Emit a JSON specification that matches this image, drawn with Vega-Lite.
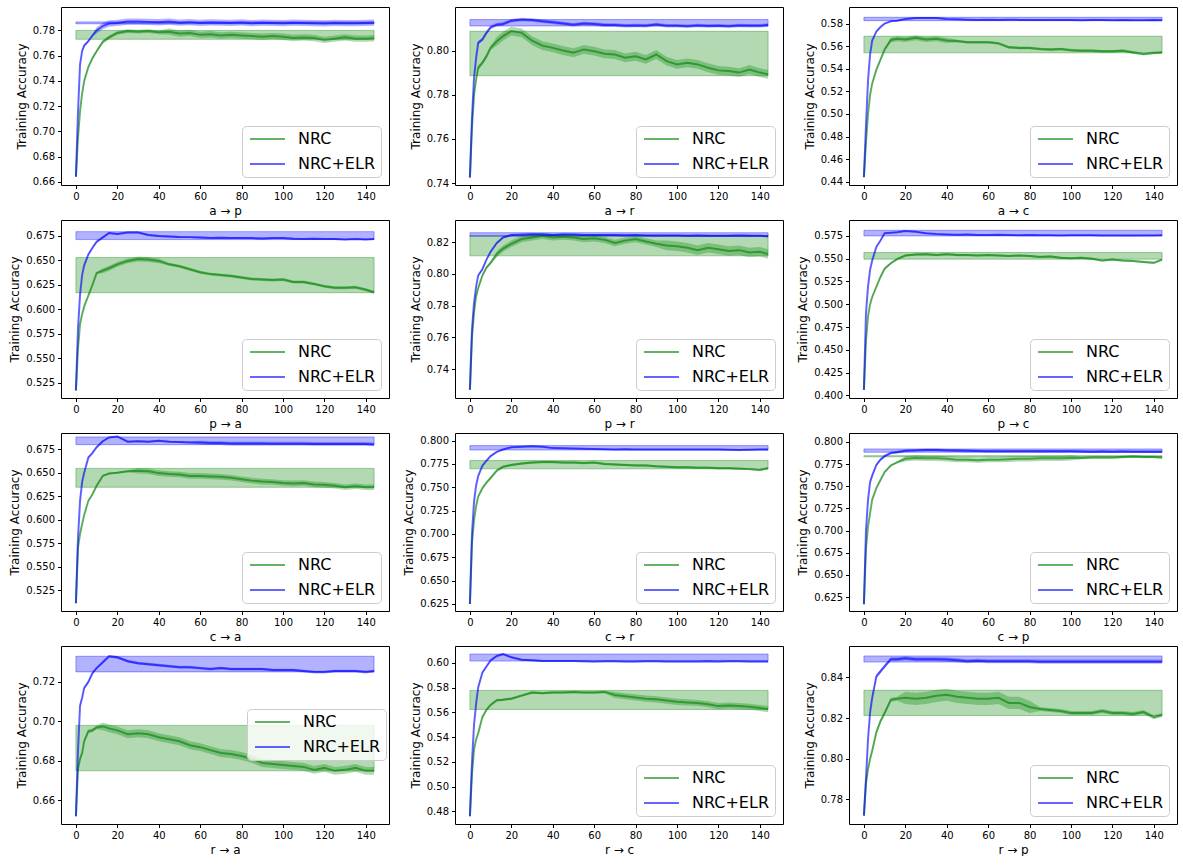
{
"$schema": "https://vega.github.io/schema/vega-lite/v6.json",
"padding": {"left": 8, "top": 6, "right": 0, "bottom": 0},
"datasets": {
"boxes": [
{"t":"ap","s":"NRC","y1":0.773,"y2":0.78},{"t":"ap","s":"NRC+ELR","y1":0.7853,"y2":0.7868},
{"t":"ar","s":"NRC","y1":0.7886,"y2":0.8087},{"t":"ar","s":"NRC+ELR","y1":0.8111,"y2":0.814},
{"t":"ac","s":"NRC","y1":0.5541,"y2":0.5688},{"t":"ac","s":"NRC+ELR","y1":0.5826,"y2":0.5856},
{"t":"pa","s":"NRC","y1":0.617,"y2":0.6529},{"t":"pa","s":"NRC+ELR","y1":0.6713,"y2":0.6794},
{"t":"pr","s":"NRC","y1":0.8114,"y2":0.8242},{"t":"pr","s":"NRC+ELR","y1":0.8237,"y2":0.826},
{"t":"pc","s":"NRC","y1":0.5495,"y2":0.5568},{"t":"pc","s":"NRC+ELR","y1":0.575,"y2":0.5812},
{"t":"ca","s":"NRC","y1":0.6344,"y2":0.6545},{"t":"ca","s":"NRC+ELR","y1":0.6798,"y2":0.688},
{"t":"cr","s":"NRC","y1":0.7698,"y2":0.7787},{"t":"cr","s":"NRC+ELR","y1":0.79,"y2":0.7947},
{"t":"cp","s":"NRC","y1":0.7832,"y2":0.7845},{"t":"cp","s":"NRC+ELR","y1":0.7884,"y2":0.7921},
{"t":"ra","s":"NRC","y1":0.675,"y2":0.698},{"t":"ra","s":"NRC+ELR","y1":0.7251,"y2":0.733},
{"t":"rc","s":"NRC","y1":0.5623,"y2":0.5777},{"t":"rc","s":"NRC+ELR","y1":0.6014,"y2":0.6071},
{"t":"rp","s":"NRC","y1":0.8213,"y2":0.8337},{"t":"rp","s":"NRC+ELR","y1":0.8476,"y2":0.8506}
],
"ap": [
{"s":"NRC","e":0,"m":0.664,"w":0.001},{"s":"NRC","e":1,"m":0.695,"w":0.001},{"s":"NRC","e":2,"m":0.716,"w":0.001},{"s":"NRC","e":3,"m":0.73,"w":0.001},{"s":"NRC","e":4,"m":0.74,"w":0.001},{"s":"NRC","e":6,"m":0.751,"w":0.001},{"s":"NRC","e":8,"m":0.758,"w":0.001},{"s":"NRC","e":10,"m":0.7635,"w":0.001},{"s":"NRC","e":13,"m":0.771,"w":0.0015},{"s":"NRC","e":16,"m":0.7745,"w":0.0015},{"s":"NRC","e":20,"m":0.778,"w":0.0015},{"s":"NRC","e":25,"m":0.7795,"w":0.0015},{"s":"NRC","e":30,"m":0.779,"w":0.0015},{"s":"NRC","e":35,"m":0.7795,"w":0.0015},{"s":"NRC","e":40,"m":0.7785,"w":0.0015},{"s":"NRC","e":45,"m":0.779,"w":0.0025},{"s":"NRC","e":50,"m":0.7775,"w":0.0025},{"s":"NRC","e":55,"m":0.778,"w":0.0025},{"s":"NRC","e":60,"m":0.7765,"w":0.0025},{"s":"NRC","e":65,"m":0.777,"w":0.0025},{"s":"NRC","e":70,"m":0.776,"w":0.0025},{"s":"NRC","e":75,"m":0.7765,"w":0.0025},{"s":"NRC","e":80,"m":0.776,"w":0.0025},{"s":"NRC","e":85,"m":0.7755,"w":0.0025},{"s":"NRC","e":90,"m":0.775,"w":0.0025},{"s":"NRC","e":95,"m":0.7755,"w":0.0025},{"s":"NRC","e":100,"m":0.775,"w":0.0025},{"s":"NRC","e":105,"m":0.774,"w":0.0025},{"s":"NRC","e":110,"m":0.7745,"w":0.0025},{"s":"NRC","e":115,"m":0.774,"w":0.0025},{"s":"NRC","e":120,"m":0.7725,"w":0.0025},{"s":"NRC","e":125,"m":0.7735,"w":0.0025},{"s":"NRC","e":130,"m":0.7745,"w":0.0025},{"s":"NRC","e":135,"m":0.7735,"w":0.0025},{"s":"NRC","e":140,"m":0.7735,"w":0.0025},{"s":"NRC","e":144,"m":0.7738,"w":0.0025},
{"s":"NRC+ELR","e":0,"m":0.664,"w":0.001},{"s":"NRC+ELR","e":1,"m":0.715,"w":0.001},{"s":"NRC+ELR","e":2,"m":0.7532,"w":0.001},{"s":"NRC+ELR","e":3,"m":0.7637,"w":0.001},{"s":"NRC+ELR","e":4,"m":0.768,"w":0.001},{"s":"NRC+ELR","e":6,"m":0.7715,"w":0.001},{"s":"NRC+ELR","e":8,"m":0.776,"w":0.001},{"s":"NRC+ELR","e":10,"m":0.78,"w":0.0025},{"s":"NRC+ELR","e":13,"m":0.7835,"w":0.0025},{"s":"NRC+ELR","e":16,"m":0.7855,"w":0.0025},{"s":"NRC+ELR","e":20,"m":0.786,"w":0.0025},{"s":"NRC+ELR","e":25,"m":0.787,"w":0.0025},{"s":"NRC+ELR","e":30,"m":0.787,"w":0.0025},{"s":"NRC+ELR","e":35,"m":0.7868,"w":0.0025},{"s":"NRC+ELR","e":40,"m":0.7865,"w":0.0025},{"s":"NRC+ELR","e":45,"m":0.787,"w":0.0025},{"s":"NRC+ELR","e":50,"m":0.7862,"w":0.0025},{"s":"NRC+ELR","e":55,"m":0.7866,"w":0.0025},{"s":"NRC+ELR","e":60,"m":0.786,"w":0.0025},{"s":"NRC+ELR","e":65,"m":0.7864,"w":0.0025},{"s":"NRC+ELR","e":70,"m":0.7862,"w":0.0025},{"s":"NRC+ELR","e":75,"m":0.786,"w":0.0025},{"s":"NRC+ELR","e":80,"m":0.7864,"w":0.0025},{"s":"NRC+ELR","e":85,"m":0.7858,"w":0.0025},{"s":"NRC+ELR","e":90,"m":0.7862,"w":0.0025},{"s":"NRC+ELR","e":95,"m":0.786,"w":0.0025},{"s":"NRC+ELR","e":100,"m":0.7858,"w":0.0025},{"s":"NRC+ELR","e":105,"m":0.7862,"w":0.0025},{"s":"NRC+ELR","e":110,"m":0.786,"w":0.0025},{"s":"NRC+ELR","e":115,"m":0.7858,"w":0.0025},{"s":"NRC+ELR","e":120,"m":0.7856,"w":0.0025},{"s":"NRC+ELR","e":125,"m":0.786,"w":0.0025},{"s":"NRC+ELR","e":130,"m":0.7858,"w":0.0025},{"s":"NRC+ELR","e":135,"m":0.7858,"w":0.0025},{"s":"NRC+ELR","e":140,"m":0.786,"w":0.0025},{"s":"NRC+ELR","e":144,"m":0.7862,"w":0.0025}
],
"ar": [
{"s":"NRC","e":0,"m":0.7425,"w":0.001},{"s":"NRC","e":1,"m":0.765,"w":0.001},{"s":"NRC","e":2,"m":0.78,"w":0.001},{"s":"NRC","e":3,"m":0.787,"w":0.001},{"s":"NRC","e":4,"m":0.7922,"w":0.001},{"s":"NRC","e":6,"m":0.7944,"w":0.001},{"s":"NRC","e":8,"m":0.7974,"w":0.001},{"s":"NRC","e":10,"m":0.8012,"w":0.001},{"s":"NRC","e":13,"m":0.8042,"w":0.002},{"s":"NRC","e":16,"m":0.8065,"w":0.002},{"s":"NRC","e":20,"m":0.8088,"w":0.002},{"s":"NRC","e":25,"m":0.808,"w":0.002},{"s":"NRC","e":30,"m":0.8045,"w":0.002},{"s":"NRC","e":35,"m":0.8022,"w":0.002},{"s":"NRC","e":40,"m":0.8012,"w":0.002},{"s":"NRC","e":45,"m":0.8,"w":0.002},{"s":"NRC","e":50,"m":0.799,"w":0.002},{"s":"NRC","e":55,"m":0.8005,"w":0.002},{"s":"NRC","e":60,"m":0.7997,"w":0.002},{"s":"NRC","e":65,"m":0.7985,"w":0.002},{"s":"NRC","e":70,"m":0.7982,"w":0.002},{"s":"NRC","e":75,"m":0.7967,"w":0.002},{"s":"NRC","e":80,"m":0.7974,"w":0.002},{"s":"NRC","e":85,"m":0.796,"w":0.002},{"s":"NRC","e":90,"m":0.7982,"w":0.002},{"s":"NRC","e":95,"m":0.7952,"w":0.002},{"s":"NRC","e":100,"m":0.7937,"w":0.002},{"s":"NRC","e":105,"m":0.7944,"w":0.002},{"s":"NRC","e":110,"m":0.7937,"w":0.002},{"s":"NRC","e":115,"m":0.7922,"w":0.002},{"s":"NRC","e":120,"m":0.791,"w":0.002},{"s":"NRC","e":125,"m":0.7907,"w":0.002},{"s":"NRC","e":130,"m":0.79,"w":0.002},{"s":"NRC","e":135,"m":0.7914,"w":0.002},{"s":"NRC","e":140,"m":0.79,"w":0.002},{"s":"NRC","e":144,"m":0.7892,"w":0.002},
{"s":"NRC+ELR","e":0,"m":0.7425,"w":0.0008},{"s":"NRC+ELR","e":1,"m":0.7696,"w":0.0008},{"s":"NRC+ELR","e":2,"m":0.7877,"w":0.0008},{"s":"NRC+ELR","e":3,"m":0.7967,"w":0.0008},{"s":"NRC+ELR","e":4,"m":0.8035,"w":0.0008},{"s":"NRC+ELR","e":6,"m":0.805,"w":0.0008},{"s":"NRC+ELR","e":8,"m":0.808,"w":0.0008},{"s":"NRC+ELR","e":10,"m":0.8105,"w":0.0008},{"s":"NRC+ELR","e":13,"m":0.8117,"w":0.0008},{"s":"NRC+ELR","e":16,"m":0.812,"w":0.0008},{"s":"NRC+ELR","e":20,"m":0.8135,"w":0.0008},{"s":"NRC+ELR","e":25,"m":0.814,"w":0.0008},{"s":"NRC+ELR","e":30,"m":0.8138,"w":0.0008},{"s":"NRC+ELR","e":35,"m":0.8132,"w":0.0008},{"s":"NRC+ELR","e":40,"m":0.8128,"w":0.0008},{"s":"NRC+ELR","e":45,"m":0.8122,"w":0.0008},{"s":"NRC+ELR","e":50,"m":0.8117,"w":0.0008},{"s":"NRC+ELR","e":55,"m":0.8122,"w":0.0008},{"s":"NRC+ELR","e":60,"m":0.812,"w":0.0008},{"s":"NRC+ELR","e":65,"m":0.8115,"w":0.0008},{"s":"NRC+ELR","e":70,"m":0.8115,"w":0.0008},{"s":"NRC+ELR","e":75,"m":0.8112,"w":0.0008},{"s":"NRC+ELR","e":80,"m":0.8113,"w":0.0008},{"s":"NRC+ELR","e":85,"m":0.8112,"w":0.0008},{"s":"NRC+ELR","e":90,"m":0.8118,"w":0.0008},{"s":"NRC+ELR","e":95,"m":0.8112,"w":0.0008},{"s":"NRC+ELR","e":100,"m":0.8112,"w":0.0008},{"s":"NRC+ELR","e":105,"m":0.811,"w":0.0008},{"s":"NRC+ELR","e":110,"m":0.8113,"w":0.0008},{"s":"NRC+ELR","e":115,"m":0.8111,"w":0.0008},{"s":"NRC+ELR","e":120,"m":0.8112,"w":0.0008},{"s":"NRC+ELR","e":125,"m":0.811,"w":0.0008},{"s":"NRC+ELR","e":130,"m":0.8113,"w":0.0008},{"s":"NRC+ELR","e":135,"m":0.8112,"w":0.0008},{"s":"NRC+ELR","e":140,"m":0.8112,"w":0.0008},{"s":"NRC+ELR","e":144,"m":0.8115,"w":0.0008}
],
"ac": [
{"s":"NRC","e":0,"m":0.444,"w":0.001},{"s":"NRC","e":1,"m":0.475,"w":0.001},{"s":"NRC","e":2,"m":0.5,"w":0.001},{"s":"NRC","e":3,"m":0.517,"w":0.001},{"s":"NRC","e":4,"m":0.527,"w":0.001},{"s":"NRC","e":6,"m":0.539,"w":0.001},{"s":"NRC","e":8,"m":0.548,"w":0.001},{"s":"NRC","e":10,"m":0.557,"w":0.001},{"s":"NRC","e":13,"m":0.5655,"w":0.0022},{"s":"NRC","e":16,"m":0.5665,"w":0.0022},{"s":"NRC","e":20,"m":0.566,"w":0.0022},{"s":"NRC","e":25,"m":0.5675,"w":0.0022},{"s":"NRC","e":30,"m":0.566,"w":0.0022},{"s":"NRC","e":35,"m":0.5665,"w":0.0022},{"s":"NRC","e":40,"m":0.565,"w":0.0022},{"s":"NRC","e":45,"m":0.5645,"w":0.0012},{"s":"NRC","e":50,"m":0.5635,"w":0.0012},{"s":"NRC","e":55,"m":0.5635,"w":0.0012},{"s":"NRC","e":60,"m":0.5635,"w":0.0012},{"s":"NRC","e":65,"m":0.5625,"w":0.0012},{"s":"NRC","e":70,"m":0.559,"w":0.0012},{"s":"NRC","e":75,"m":0.5585,"w":0.0012},{"s":"NRC","e":80,"m":0.5585,"w":0.0012},{"s":"NRC","e":85,"m":0.5575,"w":0.0012},{"s":"NRC","e":90,"m":0.557,"w":0.0012},{"s":"NRC","e":95,"m":0.5575,"w":0.0012},{"s":"NRC","e":100,"m":0.5565,"w":0.0012},{"s":"NRC","e":105,"m":0.556,"w":0.0012},{"s":"NRC","e":110,"m":0.556,"w":0.0012},{"s":"NRC","e":115,"m":0.5555,"w":0.0012},{"s":"NRC","e":120,"m":0.5555,"w":0.0012},{"s":"NRC","e":125,"m":0.556,"w":0.0012},{"s":"NRC","e":130,"m":0.5545,"w":0.0012},{"s":"NRC","e":135,"m":0.553,"w":0.0012},{"s":"NRC","e":140,"m":0.554,"w":0.0012},{"s":"NRC","e":144,"m":0.5545,"w":0.0012},
{"s":"NRC+ELR","e":0,"m":0.444,"w":0.0006},{"s":"NRC+ELR","e":1,"m":0.49,"w":0.0006},{"s":"NRC+ELR","e":2,"m":0.53,"w":0.0006},{"s":"NRC+ELR","e":3,"m":0.553,"w":0.0006},{"s":"NRC+ELR","e":4,"m":0.565,"w":0.0006},{"s":"NRC+ELR","e":6,"m":0.573,"w":0.0006},{"s":"NRC+ELR","e":8,"m":0.577,"w":0.0006},{"s":"NRC+ELR","e":10,"m":0.58,"w":0.0006},{"s":"NRC+ELR","e":13,"m":0.582,"w":0.0006},{"s":"NRC+ELR","e":16,"m":0.5825,"w":0.0006},{"s":"NRC+ELR","e":20,"m":0.584,"w":0.0006},{"s":"NRC+ELR","e":25,"m":0.585,"w":0.0006},{"s":"NRC+ELR","e":30,"m":0.585,"w":0.0006},{"s":"NRC+ELR","e":35,"m":0.585,"w":0.0006},{"s":"NRC+ELR","e":40,"m":0.584,"w":0.0006},{"s":"NRC+ELR","e":45,"m":0.5838,"w":0.0006},{"s":"NRC+ELR","e":50,"m":0.5835,"w":0.0006},{"s":"NRC+ELR","e":55,"m":0.5833,"w":0.0006},{"s":"NRC+ELR","e":60,"m":0.5835,"w":0.0006},{"s":"NRC+ELR","e":65,"m":0.5833,"w":0.0006},{"s":"NRC+ELR","e":70,"m":0.5835,"w":0.0006},{"s":"NRC+ELR","e":75,"m":0.5833,"w":0.0006},{"s":"NRC+ELR","e":80,"m":0.5833,"w":0.0006},{"s":"NRC+ELR","e":85,"m":0.5832,"w":0.0006},{"s":"NRC+ELR","e":90,"m":0.5833,"w":0.0006},{"s":"NRC+ELR","e":95,"m":0.5832,"w":0.0006},{"s":"NRC+ELR","e":100,"m":0.5832,"w":0.0006},{"s":"NRC+ELR","e":105,"m":0.583,"w":0.0006},{"s":"NRC+ELR","e":110,"m":0.5832,"w":0.0006},{"s":"NRC+ELR","e":115,"m":0.5832,"w":0.0006},{"s":"NRC+ELR","e":120,"m":0.583,"w":0.0006},{"s":"NRC+ELR","e":125,"m":0.5832,"w":0.0006},{"s":"NRC+ELR","e":130,"m":0.583,"w":0.0006},{"s":"NRC+ELR","e":135,"m":0.583,"w":0.0006},{"s":"NRC+ELR","e":140,"m":0.5832,"w":0.0006},{"s":"NRC+ELR","e":144,"m":0.583,"w":0.0006}
],
"pa": [
{"s":"NRC","e":0,"m":0.517,"w":0.001},{"s":"NRC","e":1,"m":0.56,"w":0.001},{"s":"NRC","e":2,"m":0.585,"w":0.001},{"s":"NRC","e":3,"m":0.595,"w":0.001},{"s":"NRC","e":4,"m":0.603,"w":0.001},{"s":"NRC","e":6,"m":0.614,"w":0.001},{"s":"NRC","e":8,"m":0.625,"w":0.001},{"s":"NRC","e":10,"m":0.637,"w":0.001},{"s":"NRC","e":13,"m":0.6395,"w":0.0025},{"s":"NRC","e":16,"m":0.642,"w":0.0025},{"s":"NRC","e":20,"m":0.646,"w":0.0025},{"s":"NRC","e":25,"m":0.6495,"w":0.0025},{"s":"NRC","e":30,"m":0.6515,"w":0.0025},{"s":"NRC","e":35,"m":0.651,"w":0.0025},{"s":"NRC","e":40,"m":0.6495,"w":0.0025},{"s":"NRC","e":45,"m":0.646,"w":0.0015},{"s":"NRC","e":50,"m":0.644,"w":0.0015},{"s":"NRC","e":55,"m":0.641,"w":0.0015},{"s":"NRC","e":60,"m":0.638,"w":0.0015},{"s":"NRC","e":65,"m":0.636,"w":0.0015},{"s":"NRC","e":70,"m":0.635,"w":0.0015},{"s":"NRC","e":75,"m":0.634,"w":0.0015},{"s":"NRC","e":80,"m":0.6325,"w":0.0015},{"s":"NRC","e":85,"m":0.631,"w":0.0015},{"s":"NRC","e":90,"m":0.6305,"w":0.0015},{"s":"NRC","e":95,"m":0.63,"w":0.0015},{"s":"NRC","e":100,"m":0.6305,"w":0.0015},{"s":"NRC","e":105,"m":0.628,"w":0.0015},{"s":"NRC","e":110,"m":0.628,"w":0.0015},{"s":"NRC","e":115,"m":0.626,"w":0.0015},{"s":"NRC","e":120,"m":0.6235,"w":0.0015},{"s":"NRC","e":125,"m":0.622,"w":0.0015},{"s":"NRC","e":130,"m":0.622,"w":0.0015},{"s":"NRC","e":135,"m":0.6225,"w":0.0015},{"s":"NRC","e":140,"m":0.62,"w":0.0015},{"s":"NRC","e":144,"m":0.6175,"w":0.0015},
{"s":"NRC+ELR","e":0,"m":0.517,"w":0.001},{"s":"NRC+ELR","e":1,"m":0.58,"w":0.001},{"s":"NRC+ELR","e":2,"m":0.615,"w":0.001},{"s":"NRC+ELR","e":3,"m":0.635,"w":0.001},{"s":"NRC+ELR","e":4,"m":0.645,"w":0.001},{"s":"NRC+ELR","e":6,"m":0.656,"w":0.001},{"s":"NRC+ELR","e":8,"m":0.663,"w":0.001},{"s":"NRC+ELR","e":10,"m":0.669,"w":0.001},{"s":"NRC+ELR","e":13,"m":0.6735,"w":0.001},{"s":"NRC+ELR","e":16,"m":0.678,"w":0.001},{"s":"NRC+ELR","e":20,"m":0.677,"w":0.001},{"s":"NRC+ELR","e":25,"m":0.6785,"w":0.001},{"s":"NRC+ELR","e":30,"m":0.6785,"w":0.001},{"s":"NRC+ELR","e":35,"m":0.676,"w":0.001},{"s":"NRC+ELR","e":40,"m":0.675,"w":0.001},{"s":"NRC+ELR","e":45,"m":0.6745,"w":0.001},{"s":"NRC+ELR","e":50,"m":0.674,"w":0.001},{"s":"NRC+ELR","e":55,"m":0.6738,"w":0.001},{"s":"NRC+ELR","e":60,"m":0.6735,"w":0.001},{"s":"NRC+ELR","e":65,"m":0.673,"w":0.001},{"s":"NRC+ELR","e":70,"m":0.6732,"w":0.001},{"s":"NRC+ELR","e":75,"m":0.673,"w":0.001},{"s":"NRC+ELR","e":80,"m":0.673,"w":0.001},{"s":"NRC+ELR","e":85,"m":0.6728,"w":0.001},{"s":"NRC+ELR","e":90,"m":0.6725,"w":0.001},{"s":"NRC+ELR","e":95,"m":0.6728,"w":0.001},{"s":"NRC+ELR","e":100,"m":0.673,"w":0.001},{"s":"NRC+ELR","e":105,"m":0.6722,"w":0.001},{"s":"NRC+ELR","e":110,"m":0.672,"w":0.001},{"s":"NRC+ELR","e":115,"m":0.6722,"w":0.001},{"s":"NRC+ELR","e":120,"m":0.672,"w":0.001},{"s":"NRC+ELR","e":125,"m":0.6718,"w":0.001},{"s":"NRC+ELR","e":130,"m":0.6715,"w":0.001},{"s":"NRC+ELR","e":135,"m":0.672,"w":0.001},{"s":"NRC+ELR","e":140,"m":0.6715,"w":0.001},{"s":"NRC+ELR","e":144,"m":0.672,"w":0.001}
],
"pr": [
{"s":"NRC","e":0,"m":0.727,"w":0.001},{"s":"NRC","e":1,"m":0.76,"w":0.001},{"s":"NRC","e":2,"m":0.776,"w":0.001},{"s":"NRC","e":3,"m":0.786,"w":0.001},{"s":"NRC","e":4,"m":0.791,"w":0.001},{"s":"NRC","e":6,"m":0.799,"w":0.001},{"s":"NRC","e":8,"m":0.804,"w":0.001},{"s":"NRC","e":10,"m":0.807,"w":0.001},{"s":"NRC","e":13,"m":0.8125,"w":0.002},{"s":"NRC","e":16,"m":0.816,"w":0.002},{"s":"NRC","e":20,"m":0.819,"w":0.002},{"s":"NRC","e":25,"m":0.822,"w":0.002},{"s":"NRC","e":30,"m":0.823,"w":0.002},{"s":"NRC","e":35,"m":0.824,"w":0.002},{"s":"NRC","e":40,"m":0.823,"w":0.002},{"s":"NRC","e":45,"m":0.8235,"w":0.002},{"s":"NRC","e":50,"m":0.823,"w":0.002},{"s":"NRC","e":55,"m":0.822,"w":0.002},{"s":"NRC","e":60,"m":0.8225,"w":0.002},{"s":"NRC","e":65,"m":0.8215,"w":0.002},{"s":"NRC","e":70,"m":0.8195,"w":0.002},{"s":"NRC","e":75,"m":0.821,"w":0.002},{"s":"NRC","e":80,"m":0.822,"w":0.002},{"s":"NRC","e":85,"m":0.8205,"w":0.002},{"s":"NRC","e":90,"m":0.819,"w":0.002},{"s":"NRC","e":95,"m":0.818,"w":0.003},{"s":"NRC","e":100,"m":0.8175,"w":0.003},{"s":"NRC","e":105,"m":0.8165,"w":0.003},{"s":"NRC","e":110,"m":0.815,"w":0.003},{"s":"NRC","e":115,"m":0.8165,"w":0.003},{"s":"NRC","e":120,"m":0.8155,"w":0.003},{"s":"NRC","e":125,"m":0.8145,"w":0.003},{"s":"NRC","e":130,"m":0.815,"w":0.003},{"s":"NRC","e":135,"m":0.8135,"w":0.003},{"s":"NRC","e":140,"m":0.814,"w":0.003},{"s":"NRC","e":144,"m":0.8125,"w":0.003},
{"s":"NRC+ELR","e":0,"m":0.727,"w":0.0006},{"s":"NRC+ELR","e":1,"m":0.765,"w":0.0006},{"s":"NRC+ELR","e":2,"m":0.782,"w":0.0006},{"s":"NRC+ELR","e":3,"m":0.792,"w":0.0006},{"s":"NRC+ELR","e":4,"m":0.799,"w":0.0006},{"s":"NRC+ELR","e":6,"m":0.803,"w":0.0006},{"s":"NRC+ELR","e":8,"m":0.809,"w":0.0006},{"s":"NRC+ELR","e":10,"m":0.814,"w":0.0006},{"s":"NRC+ELR","e":13,"m":0.8195,"w":0.0006},{"s":"NRC+ELR","e":16,"m":0.823,"w":0.0006},{"s":"NRC+ELR","e":20,"m":0.8245,"w":0.0006},{"s":"NRC+ELR","e":25,"m":0.8247,"w":0.0006},{"s":"NRC+ELR","e":30,"m":0.825,"w":0.0006},{"s":"NRC+ELR","e":35,"m":0.8248,"w":0.0006},{"s":"NRC+ELR","e":40,"m":0.8245,"w":0.0006},{"s":"NRC+ELR","e":45,"m":0.8248,"w":0.0006},{"s":"NRC+ELR","e":50,"m":0.8248,"w":0.0006},{"s":"NRC+ELR","e":55,"m":0.8245,"w":0.0006},{"s":"NRC+ELR","e":60,"m":0.8245,"w":0.0006},{"s":"NRC+ELR","e":65,"m":0.8246,"w":0.0006},{"s":"NRC+ELR","e":70,"m":0.8245,"w":0.0006},{"s":"NRC+ELR","e":75,"m":0.8244,"w":0.0006},{"s":"NRC+ELR","e":80,"m":0.8245,"w":0.0006},{"s":"NRC+ELR","e":85,"m":0.8243,"w":0.0006},{"s":"NRC+ELR","e":90,"m":0.8242,"w":0.0006},{"s":"NRC+ELR","e":95,"m":0.8243,"w":0.0006},{"s":"NRC+ELR","e":100,"m":0.8243,"w":0.0006},{"s":"NRC+ELR","e":105,"m":0.8241,"w":0.0006},{"s":"NRC+ELR","e":110,"m":0.8242,"w":0.0006},{"s":"NRC+ELR","e":115,"m":0.8241,"w":0.0006},{"s":"NRC+ELR","e":120,"m":0.824,"w":0.0006},{"s":"NRC+ELR","e":125,"m":0.8241,"w":0.0006},{"s":"NRC+ELR","e":130,"m":0.8242,"w":0.0006},{"s":"NRC+ELR","e":135,"m":0.8241,"w":0.0006},{"s":"NRC+ELR","e":140,"m":0.824,"w":0.0006},{"s":"NRC+ELR","e":144,"m":0.8238,"w":0.0006}
],
"pc": [
{"s":"NRC","e":0,"m":0.406,"w":0.0012},{"s":"NRC","e":1,"m":0.46,"w":0.0012},{"s":"NRC","e":2,"m":0.487,"w":0.0012},{"s":"NRC","e":3,"m":0.5,"w":0.0012},{"s":"NRC","e":4,"m":0.508,"w":0.0012},{"s":"NRC","e":6,"m":0.519,"w":0.0012},{"s":"NRC","e":8,"m":0.53,"w":0.0012},{"s":"NRC","e":10,"m":0.539,"w":0.0012},{"s":"NRC","e":13,"m":0.545,"w":0.0012},{"s":"NRC","e":16,"m":0.5495,"w":0.0012},{"s":"NRC","e":20,"m":0.5535,"w":0.0012},{"s":"NRC","e":25,"m":0.5545,"w":0.0012},{"s":"NRC","e":30,"m":0.555,"w":0.0012},{"s":"NRC","e":35,"m":0.554,"w":0.0012},{"s":"NRC","e":40,"m":0.555,"w":0.0012},{"s":"NRC","e":45,"m":0.554,"w":0.0012},{"s":"NRC","e":50,"m":0.554,"w":0.0012},{"s":"NRC","e":55,"m":0.5535,"w":0.0012},{"s":"NRC","e":60,"m":0.554,"w":0.0012},{"s":"NRC","e":65,"m":0.5535,"w":0.0012},{"s":"NRC","e":70,"m":0.553,"w":0.0012},{"s":"NRC","e":75,"m":0.5535,"w":0.0012},{"s":"NRC","e":80,"m":0.553,"w":0.0012},{"s":"NRC","e":85,"m":0.552,"w":0.0012},{"s":"NRC","e":90,"m":0.5525,"w":0.0012},{"s":"NRC","e":95,"m":0.551,"w":0.0012},{"s":"NRC","e":100,"m":0.5505,"w":0.0012},{"s":"NRC","e":105,"m":0.551,"w":0.0012},{"s":"NRC","e":110,"m":0.55,"w":0.0012},{"s":"NRC","e":115,"m":0.548,"w":0.0012},{"s":"NRC","e":120,"m":0.549,"w":0.0012},{"s":"NRC","e":125,"m":0.548,"w":0.0012},{"s":"NRC","e":130,"m":0.5475,"w":0.0012},{"s":"NRC","e":135,"m":0.5465,"w":0.0012},{"s":"NRC","e":140,"m":0.5455,"w":0.0012},{"s":"NRC","e":144,"m":0.549,"w":0.0012},
{"s":"NRC+ELR","e":0,"m":0.406,"w":0.0008},{"s":"NRC+ELR","e":1,"m":0.49,"w":0.0008},{"s":"NRC+ELR","e":2,"m":0.52,"w":0.0008},{"s":"NRC+ELR","e":3,"m":0.538,"w":0.0008},{"s":"NRC+ELR","e":4,"m":0.548,"w":0.0008},{"s":"NRC+ELR","e":6,"m":0.563,"w":0.0008},{"s":"NRC+ELR","e":8,"m":0.57,"w":0.0008},{"s":"NRC+ELR","e":10,"m":0.578,"w":0.0008},{"s":"NRC+ELR","e":13,"m":0.5785,"w":0.0008},{"s":"NRC+ELR","e":16,"m":0.579,"w":0.0008},{"s":"NRC+ELR","e":20,"m":0.5805,"w":0.0008},{"s":"NRC+ELR","e":25,"m":0.5795,"w":0.0008},{"s":"NRC+ELR","e":30,"m":0.578,"w":0.0008},{"s":"NRC+ELR","e":35,"m":0.577,"w":0.0008},{"s":"NRC+ELR","e":40,"m":0.5765,"w":0.0008},{"s":"NRC+ELR","e":45,"m":0.5762,"w":0.0008},{"s":"NRC+ELR","e":50,"m":0.5765,"w":0.0008},{"s":"NRC+ELR","e":55,"m":0.576,"w":0.0008},{"s":"NRC+ELR","e":60,"m":0.576,"w":0.0008},{"s":"NRC+ELR","e":65,"m":0.5762,"w":0.0008},{"s":"NRC+ELR","e":70,"m":0.576,"w":0.0008},{"s":"NRC+ELR","e":75,"m":0.5758,"w":0.0008},{"s":"NRC+ELR","e":80,"m":0.576,"w":0.0008},{"s":"NRC+ELR","e":85,"m":0.5758,"w":0.0008},{"s":"NRC+ELR","e":90,"m":0.5758,"w":0.0008},{"s":"NRC+ELR","e":95,"m":0.5756,"w":0.0008},{"s":"NRC+ELR","e":100,"m":0.5758,"w":0.0008},{"s":"NRC+ELR","e":105,"m":0.5757,"w":0.0008},{"s":"NRC+ELR","e":110,"m":0.5757,"w":0.0008},{"s":"NRC+ELR","e":115,"m":0.5755,"w":0.0008},{"s":"NRC+ELR","e":120,"m":0.5756,"w":0.0008},{"s":"NRC+ELR","e":125,"m":0.5755,"w":0.0008},{"s":"NRC+ELR","e":130,"m":0.5755,"w":0.0008},{"s":"NRC+ELR","e":135,"m":0.5756,"w":0.0008},{"s":"NRC+ELR","e":140,"m":0.5756,"w":0.0008},{"s":"NRC+ELR","e":144,"m":0.5757,"w":0.0008}
],
"ca": [
{"s":"NRC","e":0,"m":0.511,"w":0.001},{"s":"NRC","e":1,"m":0.57,"w":0.001},{"s":"NRC","e":2,"m":0.585,"w":0.001},{"s":"NRC","e":3,"m":0.595,"w":0.001},{"s":"NRC","e":4,"m":0.605,"w":0.001},{"s":"NRC","e":6,"m":0.62,"w":0.001},{"s":"NRC","e":8,"m":0.627,"w":0.001},{"s":"NRC","e":10,"m":0.636,"w":0.001},{"s":"NRC","e":13,"m":0.6465,"w":0.001},{"s":"NRC","e":16,"m":0.649,"w":0.001},{"s":"NRC","e":20,"m":0.65,"w":0.001},{"s":"NRC","e":25,"m":0.6515,"w":0.001},{"s":"NRC","e":30,"m":0.652,"w":0.003},{"s":"NRC","e":35,"m":0.6515,"w":0.003},{"s":"NRC","e":40,"m":0.6495,"w":0.003},{"s":"NRC","e":45,"m":0.6485,"w":0.003},{"s":"NRC","e":50,"m":0.648,"w":0.003},{"s":"NRC","e":55,"m":0.6465,"w":0.003},{"s":"NRC","e":60,"m":0.6465,"w":0.003},{"s":"NRC","e":65,"m":0.646,"w":0.003},{"s":"NRC","e":70,"m":0.6455,"w":0.003},{"s":"NRC","e":75,"m":0.6445,"w":0.003},{"s":"NRC","e":80,"m":0.643,"w":0.003},{"s":"NRC","e":85,"m":0.6415,"w":0.003},{"s":"NRC","e":90,"m":0.6405,"w":0.003},{"s":"NRC","e":95,"m":0.64,"w":0.003},{"s":"NRC","e":100,"m":0.639,"w":0.003},{"s":"NRC","e":105,"m":0.6385,"w":0.003},{"s":"NRC","e":110,"m":0.639,"w":0.003},{"s":"NRC","e":115,"m":0.6375,"w":0.003},{"s":"NRC","e":120,"m":0.637,"w":0.003},{"s":"NRC","e":125,"m":0.636,"w":0.003},{"s":"NRC","e":130,"m":0.6345,"w":0.003},{"s":"NRC","e":135,"m":0.6355,"w":0.003},{"s":"NRC","e":140,"m":0.6345,"w":0.003},{"s":"NRC","e":144,"m":0.6345,"w":0.003},
{"s":"NRC+ELR","e":0,"m":0.511,"w":0.001},{"s":"NRC+ELR","e":1,"m":0.58,"w":0.001},{"s":"NRC+ELR","e":2,"m":0.62,"w":0.001},{"s":"NRC+ELR","e":3,"m":0.64,"w":0.001},{"s":"NRC+ELR","e":4,"m":0.65,"w":0.001},{"s":"NRC+ELR","e":6,"m":0.666,"w":0.001},{"s":"NRC+ELR","e":8,"m":0.671,"w":0.001},{"s":"NRC+ELR","e":10,"m":0.677,"w":0.001},{"s":"NRC+ELR","e":13,"m":0.6835,"w":0.001},{"s":"NRC+ELR","e":16,"m":0.6875,"w":0.001},{"s":"NRC+ELR","e":20,"m":0.6885,"w":0.001},{"s":"NRC+ELR","e":25,"m":0.683,"w":0.001},{"s":"NRC+ELR","e":30,"m":0.6835,"w":0.001},{"s":"NRC+ELR","e":35,"m":0.683,"w":0.001},{"s":"NRC+ELR","e":40,"m":0.684,"w":0.001},{"s":"NRC+ELR","e":45,"m":0.683,"w":0.001},{"s":"NRC+ELR","e":50,"m":0.6825,"w":0.001},{"s":"NRC+ELR","e":55,"m":0.6822,"w":0.001},{"s":"NRC+ELR","e":60,"m":0.682,"w":0.002},{"s":"NRC+ELR","e":65,"m":0.6815,"w":0.002},{"s":"NRC+ELR","e":70,"m":0.6815,"w":0.002},{"s":"NRC+ELR","e":75,"m":0.681,"w":0.002},{"s":"NRC+ELR","e":80,"m":0.681,"w":0.002},{"s":"NRC+ELR","e":85,"m":0.681,"w":0.002},{"s":"NRC+ELR","e":90,"m":0.681,"w":0.002},{"s":"NRC+ELR","e":95,"m":0.6808,"w":0.002},{"s":"NRC+ELR","e":100,"m":0.6808,"w":0.002},{"s":"NRC+ELR","e":105,"m":0.6808,"w":0.002},{"s":"NRC+ELR","e":110,"m":0.6808,"w":0.002},{"s":"NRC+ELR","e":115,"m":0.6805,"w":0.002},{"s":"NRC+ELR","e":120,"m":0.6805,"w":0.002},{"s":"NRC+ELR","e":125,"m":0.6805,"w":0.002},{"s":"NRC+ELR","e":130,"m":0.6805,"w":0.002},{"s":"NRC+ELR","e":135,"m":0.6805,"w":0.002},{"s":"NRC+ELR","e":140,"m":0.6805,"w":0.002},{"s":"NRC+ELR","e":144,"m":0.68,"w":0.002}
],
"cr": [
{"s":"NRC","e":0,"m":0.625,"w":0.0012},{"s":"NRC","e":1,"m":0.69,"w":0.0012},{"s":"NRC","e":2,"m":0.715,"w":0.0012},{"s":"NRC","e":3,"m":0.73,"w":0.0012},{"s":"NRC","e":4,"m":0.74,"w":0.0012},{"s":"NRC","e":6,"m":0.749,"w":0.0012},{"s":"NRC","e":8,"m":0.755,"w":0.0012},{"s":"NRC","e":10,"m":0.76,"w":0.0012},{"s":"NRC","e":13,"m":0.768,"w":0.0012},{"s":"NRC","e":16,"m":0.772,"w":0.0012},{"s":"NRC","e":20,"m":0.774,"w":0.0012},{"s":"NRC","e":25,"m":0.7755,"w":0.0012},{"s":"NRC","e":30,"m":0.7765,"w":0.0012},{"s":"NRC","e":35,"m":0.777,"w":0.0012},{"s":"NRC","e":40,"m":0.777,"w":0.0012},{"s":"NRC","e":45,"m":0.7765,"w":0.0012},{"s":"NRC","e":50,"m":0.7765,"w":0.0012},{"s":"NRC","e":55,"m":0.776,"w":0.0012},{"s":"NRC","e":60,"m":0.7765,"w":0.0012},{"s":"NRC","e":65,"m":0.775,"w":0.0012},{"s":"NRC","e":70,"m":0.7745,"w":0.0012},{"s":"NRC","e":75,"m":0.774,"w":0.0012},{"s":"NRC","e":80,"m":0.7735,"w":0.0012},{"s":"NRC","e":85,"m":0.7735,"w":0.0012},{"s":"NRC","e":90,"m":0.7725,"w":0.0012},{"s":"NRC","e":95,"m":0.772,"w":0.0012},{"s":"NRC","e":100,"m":0.7715,"w":0.0012},{"s":"NRC","e":105,"m":0.7715,"w":0.0012},{"s":"NRC","e":110,"m":0.771,"w":0.0012},{"s":"NRC","e":115,"m":0.771,"w":0.0012},{"s":"NRC","e":120,"m":0.7705,"w":0.0012},{"s":"NRC","e":125,"m":0.7705,"w":0.0012},{"s":"NRC","e":130,"m":0.77,"w":0.0012},{"s":"NRC","e":135,"m":0.7695,"w":0.0012},{"s":"NRC","e":140,"m":0.7685,"w":0.0012},{"s":"NRC","e":144,"m":0.7705,"w":0.0012},
{"s":"NRC+ELR","e":0,"m":0.625,"w":0.0008},{"s":"NRC+ELR","e":1,"m":0.7,"w":0.0008},{"s":"NRC+ELR","e":2,"m":0.735,"w":0.0008},{"s":"NRC+ELR","e":3,"m":0.752,"w":0.0008},{"s":"NRC+ELR","e":4,"m":0.762,"w":0.0008},{"s":"NRC+ELR","e":6,"m":0.773,"w":0.0008},{"s":"NRC+ELR","e":8,"m":0.7785,"w":0.0008},{"s":"NRC+ELR","e":10,"m":0.7835,"w":0.0008},{"s":"NRC+ELR","e":13,"m":0.788,"w":0.0008},{"s":"NRC+ELR","e":16,"m":0.7905,"w":0.0008},{"s":"NRC+ELR","e":20,"m":0.793,"w":0.0008},{"s":"NRC+ELR","e":25,"m":0.7935,"w":0.0008},{"s":"NRC+ELR","e":30,"m":0.794,"w":0.0008},{"s":"NRC+ELR","e":35,"m":0.7935,"w":0.0008},{"s":"NRC+ELR","e":40,"m":0.792,"w":0.0008},{"s":"NRC+ELR","e":45,"m":0.7918,"w":0.0008},{"s":"NRC+ELR","e":50,"m":0.7915,"w":0.0008},{"s":"NRC+ELR","e":55,"m":0.7912,"w":0.0008},{"s":"NRC+ELR","e":60,"m":0.791,"w":0.0008},{"s":"NRC+ELR","e":65,"m":0.7908,"w":0.0008},{"s":"NRC+ELR","e":70,"m":0.7905,"w":0.0008},{"s":"NRC+ELR","e":75,"m":0.7907,"w":0.0008},{"s":"NRC+ELR","e":80,"m":0.7905,"w":0.0008},{"s":"NRC+ELR","e":85,"m":0.7905,"w":0.0008},{"s":"NRC+ELR","e":90,"m":0.7906,"w":0.0008},{"s":"NRC+ELR","e":95,"m":0.7905,"w":0.0008},{"s":"NRC+ELR","e":100,"m":0.7905,"w":0.0008},{"s":"NRC+ELR","e":105,"m":0.7906,"w":0.0008},{"s":"NRC+ELR","e":110,"m":0.7905,"w":0.0008},{"s":"NRC+ELR","e":115,"m":0.7904,"w":0.0008},{"s":"NRC+ELR","e":120,"m":0.7905,"w":0.0008},{"s":"NRC+ELR","e":125,"m":0.7903,"w":0.0008},{"s":"NRC+ELR","e":130,"m":0.79,"w":0.0008},{"s":"NRC+ELR","e":135,"m":0.7903,"w":0.0008},{"s":"NRC+ELR","e":140,"m":0.7905,"w":0.0008},{"s":"NRC+ELR","e":144,"m":0.7905,"w":0.0008}
],
"cp": [
{"s":"NRC","e":0,"m":0.617,"w":0.001},{"s":"NRC","e":1,"m":0.68,"w":0.001},{"s":"NRC","e":2,"m":0.705,"w":0.001},{"s":"NRC","e":3,"m":0.72,"w":0.001},{"s":"NRC","e":4,"m":0.735,"w":0.001},{"s":"NRC","e":6,"m":0.748,"w":0.001},{"s":"NRC","e":8,"m":0.757,"w":0.001},{"s":"NRC","e":10,"m":0.766,"w":0.001},{"s":"NRC","e":13,"m":0.7735,"w":0.001},{"s":"NRC","e":16,"m":0.777,"w":0.001},{"s":"NRC","e":20,"m":0.781,"w":0.003},{"s":"NRC","e":25,"m":0.782,"w":0.003},{"s":"NRC","e":30,"m":0.7815,"w":0.003},{"s":"NRC","e":35,"m":0.7815,"w":0.003},{"s":"NRC","e":40,"m":0.781,"w":0.003},{"s":"NRC","e":45,"m":0.78,"w":0.003},{"s":"NRC","e":50,"m":0.78,"w":0.003},{"s":"NRC","e":55,"m":0.7795,"w":0.003},{"s":"NRC","e":60,"m":0.78,"w":0.003},{"s":"NRC","e":65,"m":0.78,"w":0.003},{"s":"NRC","e":70,"m":0.7805,"w":0.003},{"s":"NRC","e":75,"m":0.781,"w":0.003},{"s":"NRC","e":80,"m":0.781,"w":0.003},{"s":"NRC","e":85,"m":0.7815,"w":0.003},{"s":"NRC","e":90,"m":0.7815,"w":0.003},{"s":"NRC","e":95,"m":0.7815,"w":0.003},{"s":"NRC","e":100,"m":0.782,"w":0.003},{"s":"NRC","e":105,"m":0.782,"w":0.0015},{"s":"NRC","e":110,"m":0.7825,"w":0.0015},{"s":"NRC","e":115,"m":0.7825,"w":0.0015},{"s":"NRC","e":120,"m":0.7825,"w":0.0015},{"s":"NRC","e":125,"m":0.783,"w":0.0015},{"s":"NRC","e":130,"m":0.7835,"w":0.0015},{"s":"NRC","e":135,"m":0.783,"w":0.0015},{"s":"NRC","e":140,"m":0.783,"w":0.0015},{"s":"NRC","e":144,"m":0.7825,"w":0.0015},
{"s":"NRC+ELR","e":0,"m":0.617,"w":0.0015},{"s":"NRC+ELR","e":1,"m":0.7,"w":0.0015},{"s":"NRC+ELR","e":2,"m":0.735,"w":0.0015},{"s":"NRC+ELR","e":3,"m":0.755,"w":0.0015},{"s":"NRC+ELR","e":4,"m":0.762,"w":0.0015},{"s":"NRC+ELR","e":6,"m":0.774,"w":0.0015},{"s":"NRC+ELR","e":8,"m":0.78,"w":0.0015},{"s":"NRC+ELR","e":10,"m":0.784,"w":0.0015},{"s":"NRC+ELR","e":13,"m":0.7875,"w":0.0015},{"s":"NRC+ELR","e":16,"m":0.7885,"w":0.0015},{"s":"NRC+ELR","e":20,"m":0.79,"w":0.0015},{"s":"NRC+ELR","e":25,"m":0.7905,"w":0.0015},{"s":"NRC+ELR","e":30,"m":0.791,"w":0.0015},{"s":"NRC+ELR","e":35,"m":0.791,"w":0.0015},{"s":"NRC+ELR","e":40,"m":0.7905,"w":0.0015},{"s":"NRC+ELR","e":45,"m":0.7903,"w":0.0015},{"s":"NRC+ELR","e":50,"m":0.79,"w":0.0015},{"s":"NRC+ELR","e":55,"m":0.7898,"w":0.0015},{"s":"NRC+ELR","e":60,"m":0.7895,"w":0.0015},{"s":"NRC+ELR","e":65,"m":0.7896,"w":0.0015},{"s":"NRC+ELR","e":70,"m":0.7895,"w":0.0015},{"s":"NRC+ELR","e":75,"m":0.7895,"w":0.0015},{"s":"NRC+ELR","e":80,"m":0.7895,"w":0.0015},{"s":"NRC+ELR","e":85,"m":0.7894,"w":0.0015},{"s":"NRC+ELR","e":90,"m":0.7895,"w":0.0015},{"s":"NRC+ELR","e":95,"m":0.7894,"w":0.0015},{"s":"NRC+ELR","e":100,"m":0.7895,"w":0.0015},{"s":"NRC+ELR","e":105,"m":0.7892,"w":0.0015},{"s":"NRC+ELR","e":110,"m":0.789,"w":0.0015},{"s":"NRC+ELR","e":115,"m":0.7891,"w":0.0015},{"s":"NRC+ELR","e":120,"m":0.789,"w":0.0015},{"s":"NRC+ELR","e":125,"m":0.7891,"w":0.0015},{"s":"NRC+ELR","e":130,"m":0.789,"w":0.0015},{"s":"NRC+ELR","e":135,"m":0.789,"w":0.0015},{"s":"NRC+ELR","e":140,"m":0.789,"w":0.0015},{"s":"NRC+ELR","e":144,"m":0.789,"w":0.0015}
],
"ra": [
{"s":"NRC","e":0,"m":0.652,"w":0.001},{"s":"NRC","e":1,"m":0.676,"w":0.001},{"s":"NRC","e":2,"m":0.681,"w":0.001},{"s":"NRC","e":3,"m":0.684,"w":0.001},{"s":"NRC","e":4,"m":0.69,"w":0.001},{"s":"NRC","e":6,"m":0.695,"w":0.001},{"s":"NRC","e":8,"m":0.6955,"w":0.001},{"s":"NRC","e":10,"m":0.697,"w":0.001},{"s":"NRC","e":13,"m":0.6975,"w":0.002},{"s":"NRC","e":16,"m":0.6965,"w":0.002},{"s":"NRC","e":20,"m":0.6955,"w":0.002},{"s":"NRC","e":25,"m":0.6935,"w":0.002},{"s":"NRC","e":30,"m":0.694,"w":0.002},{"s":"NRC","e":35,"m":0.6935,"w":0.002},{"s":"NRC","e":40,"m":0.692,"w":0.002},{"s":"NRC","e":45,"m":0.691,"w":0.002},{"s":"NRC","e":50,"m":0.69,"w":0.002},{"s":"NRC","e":55,"m":0.688,"w":0.002},{"s":"NRC","e":60,"m":0.687,"w":0.002},{"s":"NRC","e":65,"m":0.6855,"w":0.002},{"s":"NRC","e":70,"m":0.684,"w":0.002},{"s":"NRC","e":75,"m":0.6835,"w":0.002},{"s":"NRC","e":80,"m":0.6825,"w":0.002},{"s":"NRC","e":85,"m":0.681,"w":0.002},{"s":"NRC","e":90,"m":0.679,"w":0.002},{"s":"NRC","e":95,"m":0.6785,"w":0.002},{"s":"NRC","e":100,"m":0.678,"w":0.002},{"s":"NRC","e":105,"m":0.6775,"w":0.002},{"s":"NRC","e":110,"m":0.677,"w":0.002},{"s":"NRC","e":115,"m":0.6755,"w":0.002},{"s":"NRC","e":120,"m":0.6765,"w":0.002},{"s":"NRC","e":125,"m":0.675,"w":0.002},{"s":"NRC","e":130,"m":0.6755,"w":0.002},{"s":"NRC","e":135,"m":0.6765,"w":0.002},{"s":"NRC","e":140,"m":0.675,"w":0.002},{"s":"NRC","e":144,"m":0.675,"w":0.002},
{"s":"NRC+ELR","e":0,"m":0.652,"w":0.0007},{"s":"NRC+ELR","e":1,"m":0.685,"w":0.0007},{"s":"NRC+ELR","e":2,"m":0.708,"w":0.0007},{"s":"NRC+ELR","e":3,"m":0.712,"w":0.0007},{"s":"NRC+ELR","e":4,"m":0.717,"w":0.0007},{"s":"NRC+ELR","e":6,"m":0.72,"w":0.0007},{"s":"NRC+ELR","e":8,"m":0.7245,"w":0.0007},{"s":"NRC+ELR","e":10,"m":0.727,"w":0.0007},{"s":"NRC+ELR","e":13,"m":0.73,"w":0.0007},{"s":"NRC+ELR","e":16,"m":0.733,"w":0.0007},{"s":"NRC+ELR","e":20,"m":0.7325,"w":0.0007},{"s":"NRC+ELR","e":25,"m":0.7305,"w":0.0007},{"s":"NRC+ELR","e":30,"m":0.7295,"w":0.0007},{"s":"NRC+ELR","e":35,"m":0.729,"w":0.0007},{"s":"NRC+ELR","e":40,"m":0.7285,"w":0.0007},{"s":"NRC+ELR","e":45,"m":0.728,"w":0.0007},{"s":"NRC+ELR","e":50,"m":0.7275,"w":0.0007},{"s":"NRC+ELR","e":55,"m":0.7275,"w":0.0007},{"s":"NRC+ELR","e":60,"m":0.727,"w":0.0007},{"s":"NRC+ELR","e":65,"m":0.7265,"w":0.0007},{"s":"NRC+ELR","e":70,"m":0.727,"w":0.0007},{"s":"NRC+ELR","e":75,"m":0.7265,"w":0.0007},{"s":"NRC+ELR","e":80,"m":0.7265,"w":0.0007},{"s":"NRC+ELR","e":85,"m":0.7265,"w":0.0007},{"s":"NRC+ELR","e":90,"m":0.7265,"w":0.0007},{"s":"NRC+ELR","e":95,"m":0.726,"w":0.0007},{"s":"NRC+ELR","e":100,"m":0.726,"w":0.0007},{"s":"NRC+ELR","e":105,"m":0.726,"w":0.0007},{"s":"NRC+ELR","e":110,"m":0.7255,"w":0.0007},{"s":"NRC+ELR","e":115,"m":0.725,"w":0.0007},{"s":"NRC+ELR","e":120,"m":0.725,"w":0.0007},{"s":"NRC+ELR","e":125,"m":0.7255,"w":0.0007},{"s":"NRC+ELR","e":130,"m":0.7255,"w":0.0007},{"s":"NRC+ELR","e":135,"m":0.7255,"w":0.0007},{"s":"NRC+ELR","e":140,"m":0.725,"w":0.0007},{"s":"NRC+ELR","e":144,"m":0.7255,"w":0.0007}
],
"rc": [
{"s":"NRC","e":0,"m":0.476,"w":0.001},{"s":"NRC","e":1,"m":0.51,"w":0.001},{"s":"NRC","e":2,"m":0.53,"w":0.001},{"s":"NRC","e":3,"m":0.538,"w":0.001},{"s":"NRC","e":4,"m":0.543,"w":0.001},{"s":"NRC","e":6,"m":0.556,"w":0.001},{"s":"NRC","e":8,"m":0.562,"w":0.001},{"s":"NRC","e":10,"m":0.566,"w":0.001},{"s":"NRC","e":13,"m":0.5698,"w":0.001},{"s":"NRC","e":16,"m":0.5702,"w":0.001},{"s":"NRC","e":20,"m":0.571,"w":0.001},{"s":"NRC","e":25,"m":0.5735,"w":0.001},{"s":"NRC","e":30,"m":0.576,"w":0.001},{"s":"NRC","e":35,"m":0.5755,"w":0.001},{"s":"NRC","e":40,"m":0.576,"w":0.001},{"s":"NRC","e":45,"m":0.576,"w":0.001},{"s":"NRC","e":50,"m":0.5765,"w":0.001},{"s":"NRC","e":55,"m":0.576,"w":0.001},{"s":"NRC","e":60,"m":0.576,"w":0.001},{"s":"NRC","e":65,"m":0.5765,"w":0.001},{"s":"NRC","e":70,"m":0.574,"w":0.0025},{"s":"NRC","e":75,"m":0.573,"w":0.0025},{"s":"NRC","e":80,"m":0.572,"w":0.0025},{"s":"NRC","e":85,"m":0.571,"w":0.0025},{"s":"NRC","e":90,"m":0.5705,"w":0.0025},{"s":"NRC","e":95,"m":0.5695,"w":0.0025},{"s":"NRC","e":100,"m":0.5685,"w":0.0025},{"s":"NRC","e":105,"m":0.568,"w":0.0025},{"s":"NRC","e":110,"m":0.5675,"w":0.0025},{"s":"NRC","e":115,"m":0.5665,"w":0.0025},{"s":"NRC","e":120,"m":0.565,"w":0.0025},{"s":"NRC","e":125,"m":0.5655,"w":0.0025},{"s":"NRC","e":130,"m":0.565,"w":0.0025},{"s":"NRC","e":135,"m":0.5645,"w":0.0025},{"s":"NRC","e":140,"m":0.5635,"w":0.0025},{"s":"NRC","e":144,"m":0.5625,"w":0.0025},
{"s":"NRC+ELR","e":0,"m":0.476,"w":0.0008},{"s":"NRC+ELR","e":1,"m":0.52,"w":0.0008},{"s":"NRC+ELR","e":2,"m":0.55,"w":0.0008},{"s":"NRC+ELR","e":3,"m":0.567,"w":0.0008},{"s":"NRC+ELR","e":4,"m":0.58,"w":0.0008},{"s":"NRC+ELR","e":6,"m":0.592,"w":0.0008},{"s":"NRC+ELR","e":8,"m":0.597,"w":0.0008},{"s":"NRC+ELR","e":10,"m":0.602,"w":0.0008},{"s":"NRC+ELR","e":13,"m":0.6055,"w":0.0008},{"s":"NRC+ELR","e":16,"m":0.607,"w":0.0008},{"s":"NRC+ELR","e":20,"m":0.6045,"w":0.0008},{"s":"NRC+ELR","e":25,"m":0.6025,"w":0.0008},{"s":"NRC+ELR","e":30,"m":0.602,"w":0.0008},{"s":"NRC+ELR","e":35,"m":0.6015,"w":0.0008},{"s":"NRC+ELR","e":40,"m":0.6015,"w":0.0008},{"s":"NRC+ELR","e":45,"m":0.6015,"w":0.0008},{"s":"NRC+ELR","e":50,"m":0.6015,"w":0.0008},{"s":"NRC+ELR","e":55,"m":0.6012,"w":0.0008},{"s":"NRC+ELR","e":60,"m":0.601,"w":0.0008},{"s":"NRC+ELR","e":65,"m":0.6012,"w":0.0008},{"s":"NRC+ELR","e":70,"m":0.6012,"w":0.0008},{"s":"NRC+ELR","e":75,"m":0.601,"w":0.0008},{"s":"NRC+ELR","e":80,"m":0.601,"w":0.0008},{"s":"NRC+ELR","e":85,"m":0.6012,"w":0.0008},{"s":"NRC+ELR","e":90,"m":0.6012,"w":0.0008},{"s":"NRC+ELR","e":95,"m":0.601,"w":0.0008},{"s":"NRC+ELR","e":100,"m":0.601,"w":0.0008},{"s":"NRC+ELR","e":105,"m":0.601,"w":0.0008},{"s":"NRC+ELR","e":110,"m":0.601,"w":0.0008},{"s":"NRC+ELR","e":115,"m":0.6012,"w":0.0008},{"s":"NRC+ELR","e":120,"m":0.601,"w":0.0008},{"s":"NRC+ELR","e":125,"m":0.6012,"w":0.0008},{"s":"NRC+ELR","e":130,"m":0.6012,"w":0.0008},{"s":"NRC+ELR","e":135,"m":0.601,"w":0.0008},{"s":"NRC+ELR","e":140,"m":0.601,"w":0.0008},{"s":"NRC+ELR","e":144,"m":0.601,"w":0.0008}
],
"rp": [
{"s":"NRC","e":0,"m":0.772,"w":0.001},{"s":"NRC","e":1,"m":0.788,"w":0.001},{"s":"NRC","e":2,"m":0.795,"w":0.001},{"s":"NRC","e":3,"m":0.8,"w":0.001},{"s":"NRC","e":4,"m":0.804,"w":0.001},{"s":"NRC","e":6,"m":0.813,"w":0.001},{"s":"NRC","e":8,"m":0.8185,"w":0.001},{"s":"NRC","e":10,"m":0.8225,"w":0.001},{"s":"NRC","e":13,"m":0.829,"w":0.001},{"s":"NRC","e":16,"m":0.8295,"w":0.001},{"s":"NRC","e":20,"m":0.83,"w":0.003},{"s":"NRC","e":25,"m":0.8295,"w":0.003},{"s":"NRC","e":30,"m":0.83,"w":0.003},{"s":"NRC","e":35,"m":0.831,"w":0.003},{"s":"NRC","e":40,"m":0.8315,"w":0.003},{"s":"NRC","e":45,"m":0.8305,"w":0.003},{"s":"NRC","e":50,"m":0.83,"w":0.003},{"s":"NRC","e":55,"m":0.8295,"w":0.003},{"s":"NRC","e":60,"m":0.8295,"w":0.003},{"s":"NRC","e":65,"m":0.83,"w":0.003},{"s":"NRC","e":70,"m":0.8275,"w":0.003},{"s":"NRC","e":75,"m":0.8275,"w":0.003},{"s":"NRC","e":80,"m":0.8255,"w":0.003},{"s":"NRC","e":85,"m":0.8245,"w":0.001},{"s":"NRC","e":90,"m":0.824,"w":0.001},{"s":"NRC","e":95,"m":0.8235,"w":0.001},{"s":"NRC","e":100,"m":0.8225,"w":0.001},{"s":"NRC","e":105,"m":0.8225,"w":0.001},{"s":"NRC","e":110,"m":0.8225,"w":0.001},{"s":"NRC","e":115,"m":0.8235,"w":0.001},{"s":"NRC","e":120,"m":0.8225,"w":0.001},{"s":"NRC","e":125,"m":0.8225,"w":0.001},{"s":"NRC","e":130,"m":0.822,"w":0.001},{"s":"NRC","e":135,"m":0.823,"w":0.001},{"s":"NRC","e":140,"m":0.8205,"w":0.001},{"s":"NRC","e":144,"m":0.8215,"w":0.001},
{"s":"NRC+ELR","e":0,"m":0.772,"w":0.001},{"s":"NRC+ELR","e":1,"m":0.79,"w":0.001},{"s":"NRC+ELR","e":2,"m":0.81,"w":0.001},{"s":"NRC+ELR","e":3,"m":0.823,"w":0.001},{"s":"NRC+ELR","e":4,"m":0.83,"w":0.001},{"s":"NRC+ELR","e":6,"m":0.8405,"w":0.001},{"s":"NRC+ELR","e":8,"m":0.843,"w":0.001},{"s":"NRC+ELR","e":10,"m":0.8455,"w":0.001},{"s":"NRC+ELR","e":13,"m":0.849,"w":0.001},{"s":"NRC+ELR","e":16,"m":0.849,"w":0.001},{"s":"NRC+ELR","e":20,"m":0.8495,"w":0.001},{"s":"NRC+ELR","e":25,"m":0.849,"w":0.001},{"s":"NRC+ELR","e":30,"m":0.849,"w":0.001},{"s":"NRC+ELR","e":35,"m":0.849,"w":0.001},{"s":"NRC+ELR","e":40,"m":0.8488,"w":0.001},{"s":"NRC+ELR","e":45,"m":0.8485,"w":0.001},{"s":"NRC+ELR","e":50,"m":0.848,"w":0.001},{"s":"NRC+ELR","e":55,"m":0.8482,"w":0.001},{"s":"NRC+ELR","e":60,"m":0.848,"w":0.001},{"s":"NRC+ELR","e":65,"m":0.848,"w":0.001},{"s":"NRC+ELR","e":70,"m":0.848,"w":0.001},{"s":"NRC+ELR","e":75,"m":0.848,"w":0.001},{"s":"NRC+ELR","e":80,"m":0.848,"w":0.001},{"s":"NRC+ELR","e":85,"m":0.8478,"w":0.001},{"s":"NRC+ELR","e":90,"m":0.8478,"w":0.001},{"s":"NRC+ELR","e":95,"m":0.8478,"w":0.001},{"s":"NRC+ELR","e":100,"m":0.8478,"w":0.001},{"s":"NRC+ELR","e":105,"m":0.8478,"w":0.001},{"s":"NRC+ELR","e":110,"m":0.8478,"w":0.001},{"s":"NRC+ELR","e":115,"m":0.8478,"w":0.001},{"s":"NRC+ELR","e":120,"m":0.8478,"w":0.001},{"s":"NRC+ELR","e":125,"m":0.8478,"w":0.001},{"s":"NRC+ELR","e":130,"m":0.8478,"w":0.001},{"s":"NRC+ELR","e":135,"m":0.8478,"w":0.001},{"s":"NRC+ELR","e":140,"m":0.8478,"w":0.001},{"s":"NRC+ELR","e":144,"m":0.8478,"w":0.001}
]
},
"columns": 3,
"spacing": {"row": 35, "column": 66},
"bounds": "flush",
"resolve": {"scale": {"x": "independent", "y": "independent", "color": "independent", "fill": "independent", "stroke": "independent"}, "axis": {"x": "independent", "y": "independent"}, "legend": {"color": "independent"}},
"concat": [
{"width":328,"height":178,"data":{"name":"ap"},
"encoding":{"y":{"field":"m","type":"quantitative","scale":{"domain":[0.6574,0.7986],"nice":false,"zero":false},"axis":{"title":"Training Accuracy","values":[0.66,0.68,0.7,0.72,0.74,0.76,0.78],"format":".2f"}}},
"layer":[
{"data":{"name":"boxes"},"transform":[{"filter":"datum.t == 'ap'"}],"mark":{"type":"rect","fillOpacity":0.3,"strokeOpacity":0.35,"strokeWidth":1},"encoding":{"x":{"datum":0,"type":"quantitative"},"x2":{"datum":144},"y":{"field":"y1","type":"quantitative"},"y2":{"field":"y2"},"fill":{"field":"s","type":"nominal","legend":null},"stroke":{"field":"s","type":"nominal","legend":null}}},
{"mark":"errorband","encoding":{"x":{"field":"e","type":"quantitative"},"yError":{"field":"w"},"fill":{"field":"s","type":"nominal","legend":null}}},
{"mark":{"type":"line","strokeWidth":2,"opacity":0.6},"encoding":{"x":{"field":"e","type":"quantitative","scale":{"domain":[-7.2,151.2],"nice":false},"axis":{"title":"a → p","values":[0,20,40,60,80,100,120,140]}},"color":{"field":"s","type":"nominal","legend":{"title":null}}}}
]},
{"width":328,"height":178,"data":{"name":"ar"},
"encoding":{"y":{"field":"m","type":"quantitative","scale":{"domain":[0.7391,0.8197],"nice":false,"zero":false},"axis":{"title":"Training Accuracy","values":[0.74,0.76,0.78,0.8],"format":".2f"}}},
"layer":[
{"data":{"name":"boxes"},"transform":[{"filter":"datum.t == 'ar'"}],"mark":{"type":"rect","fillOpacity":0.3,"strokeOpacity":0.35,"strokeWidth":1},"encoding":{"x":{"datum":0,"type":"quantitative"},"x2":{"datum":144},"y":{"field":"y1","type":"quantitative"},"y2":{"field":"y2"},"fill":{"field":"s","type":"nominal","legend":null},"stroke":{"field":"s","type":"nominal","legend":null}}},
{"mark":"errorband","encoding":{"x":{"field":"e","type":"quantitative"},"yError":{"field":"w"},"fill":{"field":"s","type":"nominal","legend":null}}},
{"mark":{"type":"line","strokeWidth":2,"opacity":0.6},"encoding":{"x":{"field":"e","type":"quantitative","scale":{"domain":[-7.2,151.2],"nice":false},"axis":{"title":"a → r","values":[0,20,40,60,80,100,120,140]}},"color":{"field":"s","type":"nominal","legend":{"title":null}}}}
]},
{"width":328,"height":178,"data":{"name":"ac"},
"encoding":{"y":{"field":"m","type":"quantitative","scale":{"domain":[0.4371,0.5947],"nice":false,"zero":false},"axis":{"title":"Training Accuracy","values":[0.44,0.46,0.48,0.5,0.52,0.54,0.56,0.58],"format":".2f"}}},
"layer":[
{"data":{"name":"boxes"},"transform":[{"filter":"datum.t == 'ac'"}],"mark":{"type":"rect","fillOpacity":0.3,"strokeOpacity":0.35,"strokeWidth":1},"encoding":{"x":{"datum":0,"type":"quantitative"},"x2":{"datum":144},"y":{"field":"y1","type":"quantitative"},"y2":{"field":"y2"},"fill":{"field":"s","type":"nominal","legend":null},"stroke":{"field":"s","type":"nominal","legend":null}}},
{"mark":"errorband","encoding":{"x":{"field":"e","type":"quantitative"},"yError":{"field":"w"},"fill":{"field":"s","type":"nominal","legend":null}}},
{"mark":{"type":"line","strokeWidth":2,"opacity":0.6},"encoding":{"x":{"field":"e","type":"quantitative","scale":{"domain":[-7.2,151.2],"nice":false},"axis":{"title":"a → c","values":[0,20,40,60,80,100,120,140]}},"color":{"field":"s","type":"nominal","legend":{"title":null}}}}
]},
{"width":328,"height":178,"data":{"name":"pa"},
"encoding":{"y":{"field":"m","type":"quantitative","scale":{"domain":[0.5094,0.6913],"nice":false,"zero":false},"axis":{"title":"Training Accuracy","values":[0.525,0.55,0.575,0.6,0.625,0.65,0.675],"format":".3f"}}},
"layer":[
{"data":{"name":"boxes"},"transform":[{"filter":"datum.t == 'pa'"}],"mark":{"type":"rect","fillOpacity":0.3,"strokeOpacity":0.35,"strokeWidth":1},"encoding":{"x":{"datum":0,"type":"quantitative"},"x2":{"datum":144},"y":{"field":"y1","type":"quantitative"},"y2":{"field":"y2"},"fill":{"field":"s","type":"nominal","legend":null},"stroke":{"field":"s","type":"nominal","legend":null}}},
{"mark":"errorband","encoding":{"x":{"field":"e","type":"quantitative"},"yError":{"field":"w"},"fill":{"field":"s","type":"nominal","legend":null}}},
{"mark":{"type":"line","strokeWidth":2,"opacity":0.6},"encoding":{"x":{"field":"e","type":"quantitative","scale":{"domain":[-7.2,151.2],"nice":false},"axis":{"title":"p → a","values":[0,20,40,60,80,100,120,140]}},"color":{"field":"s","type":"nominal","legend":{"title":null}}}}
]},
{"width":328,"height":178,"data":{"name":"pr"},
"encoding":{"y":{"field":"m","type":"quantitative","scale":{"domain":[0.7218,0.834],"nice":false,"zero":false},"axis":{"title":"Training Accuracy","values":[0.74,0.76,0.78,0.8,0.82],"format":".2f"}}},
"layer":[
{"data":{"name":"boxes"},"transform":[{"filter":"datum.t == 'pr'"}],"mark":{"type":"rect","fillOpacity":0.3,"strokeOpacity":0.35,"strokeWidth":1},"encoding":{"x":{"datum":0,"type":"quantitative"},"x2":{"datum":144},"y":{"field":"y1","type":"quantitative"},"y2":{"field":"y2"},"fill":{"field":"s","type":"nominal","legend":null},"stroke":{"field":"s","type":"nominal","legend":null}}},
{"mark":"errorband","encoding":{"x":{"field":"e","type":"quantitative"},"yError":{"field":"w"},"fill":{"field":"s","type":"nominal","legend":null}}},
{"mark":{"type":"line","strokeWidth":2,"opacity":0.6},"encoding":{"x":{"field":"e","type":"quantitative","scale":{"domain":[-7.2,151.2],"nice":false},"axis":{"title":"p → r","values":[0,20,40,60,80,100,120,140]}},"color":{"field":"s","type":"nominal","legend":{"title":null}}}}
]},
{"width":328,"height":178,"data":{"name":"pc"},
"encoding":{"y":{"field":"m","type":"quantitative","scale":{"domain":[0.3971,0.5925],"nice":false,"zero":false},"axis":{"title":"Training Accuracy","values":[0.4,0.425,0.45,0.475,0.5,0.525,0.55,0.575],"format":".3f"}}},
"layer":[
{"data":{"name":"boxes"},"transform":[{"filter":"datum.t == 'pc'"}],"mark":{"type":"rect","fillOpacity":0.3,"strokeOpacity":0.35,"strokeWidth":1},"encoding":{"x":{"datum":0,"type":"quantitative"},"x2":{"datum":144},"y":{"field":"y1","type":"quantitative"},"y2":{"field":"y2"},"fill":{"field":"s","type":"nominal","legend":null},"stroke":{"field":"s","type":"nominal","legend":null}}},
{"mark":"errorband","encoding":{"x":{"field":"e","type":"quantitative"},"yError":{"field":"w"},"fill":{"field":"s","type":"nominal","legend":null}}},
{"mark":{"type":"line","strokeWidth":2,"opacity":0.6},"encoding":{"x":{"field":"e","type":"quantitative","scale":{"domain":[-7.2,151.2],"nice":false},"axis":{"title":"p → c","values":[0,20,40,60,80,100,120,140]}},"color":{"field":"s","type":"nominal","legend":{"title":null}}}}
]},
{"width":328,"height":178,"data":{"name":"ca"},
"encoding":{"y":{"field":"m","type":"quantitative","scale":{"domain":[0.5027,0.6922],"nice":false,"zero":false},"axis":{"title":"Training Accuracy","values":[0.525,0.55,0.575,0.6,0.625,0.65,0.675],"format":".3f"}}},
"layer":[
{"data":{"name":"boxes"},"transform":[{"filter":"datum.t == 'ca'"}],"mark":{"type":"rect","fillOpacity":0.3,"strokeOpacity":0.35,"strokeWidth":1},"encoding":{"x":{"datum":0,"type":"quantitative"},"x2":{"datum":144},"y":{"field":"y1","type":"quantitative"},"y2":{"field":"y2"},"fill":{"field":"s","type":"nominal","legend":null},"stroke":{"field":"s","type":"nominal","legend":null}}},
{"mark":"errorband","encoding":{"x":{"field":"e","type":"quantitative"},"yError":{"field":"w"},"fill":{"field":"s","type":"nominal","legend":null}}},
{"mark":{"type":"line","strokeWidth":2,"opacity":0.6},"encoding":{"x":{"field":"e","type":"quantitative","scale":{"domain":[-7.2,151.2],"nice":false},"axis":{"title":"c → a","values":[0,20,40,60,80,100,120,140]}},"color":{"field":"s","type":"nominal","legend":{"title":null}}}}
]},
{"width":328,"height":178,"data":{"name":"cr"},
"encoding":{"y":{"field":"m","type":"quantitative","scale":{"domain":[0.6175,0.8082],"nice":false,"zero":false},"axis":{"title":"Training Accuracy","values":[0.625,0.65,0.675,0.7,0.725,0.75,0.775,0.8],"format":".3f"}}},
"layer":[
{"data":{"name":"boxes"},"transform":[{"filter":"datum.t == 'cr'"}],"mark":{"type":"rect","fillOpacity":0.3,"strokeOpacity":0.35,"strokeWidth":1},"encoding":{"x":{"datum":0,"type":"quantitative"},"x2":{"datum":144},"y":{"field":"y1","type":"quantitative"},"y2":{"field":"y2"},"fill":{"field":"s","type":"nominal","legend":null},"stroke":{"field":"s","type":"nominal","legend":null}}},
{"mark":"errorband","encoding":{"x":{"field":"e","type":"quantitative"},"yError":{"field":"w"},"fill":{"field":"s","type":"nominal","legend":null}}},
{"mark":{"type":"line","strokeWidth":2,"opacity":0.6},"encoding":{"x":{"field":"e","type":"quantitative","scale":{"domain":[-7.2,151.2],"nice":false},"axis":{"title":"c → r","values":[0,20,40,60,80,100,120,140]}},"color":{"field":"s","type":"nominal","legend":{"title":null}}}}
]},
{"width":328,"height":178,"data":{"name":"cp"},
"encoding":{"y":{"field":"m","type":"quantitative","scale":{"domain":[0.6093,0.8101],"nice":false,"zero":false},"axis":{"title":"Training Accuracy","values":[0.625,0.65,0.675,0.7,0.725,0.75,0.775,0.8],"format":".3f"}}},
"layer":[
{"data":{"name":"boxes"},"transform":[{"filter":"datum.t == 'cp'"}],"mark":{"type":"rect","fillOpacity":0.3,"strokeOpacity":0.35,"strokeWidth":1},"encoding":{"x":{"datum":0,"type":"quantitative"},"x2":{"datum":144},"y":{"field":"y1","type":"quantitative"},"y2":{"field":"y2"},"fill":{"field":"s","type":"nominal","legend":null},"stroke":{"field":"s","type":"nominal","legend":null}}},
{"mark":"errorband","encoding":{"x":{"field":"e","type":"quantitative"},"yError":{"field":"w"},"fill":{"field":"s","type":"nominal","legend":null}}},
{"mark":{"type":"line","strokeWidth":2,"opacity":0.6},"encoding":{"x":{"field":"e","type":"quantitative","scale":{"domain":[-7.2,151.2],"nice":false},"axis":{"title":"c → p","values":[0,20,40,60,80,100,120,140]}},"color":{"field":"s","type":"nominal","legend":{"title":null}}}}
]},
{"width":328,"height":178,"data":{"name":"ra"},
"encoding":{"y":{"field":"m","type":"quantitative","scale":{"domain":[0.6481,0.7382],"nice":false,"zero":false},"axis":{"title":"Training Accuracy","values":[0.66,0.68,0.7,0.72],"format":".2f"}}},
"layer":[
{"data":{"name":"boxes"},"transform":[{"filter":"datum.t == 'ra'"}],"mark":{"type":"rect","fillOpacity":0.3,"strokeOpacity":0.35,"strokeWidth":1},"encoding":{"x":{"datum":0,"type":"quantitative"},"x2":{"datum":144},"y":{"field":"y1","type":"quantitative"},"y2":{"field":"y2"},"fill":{"field":"s","type":"nominal","legend":null},"stroke":{"field":"s","type":"nominal","legend":null}}},
{"mark":"errorband","encoding":{"x":{"field":"e","type":"quantitative"},"yError":{"field":"w"},"fill":{"field":"s","type":"nominal","legend":null}}},
{"mark":{"type":"line","strokeWidth":2,"opacity":0.6},"encoding":{"x":{"field":"e","type":"quantitative","scale":{"domain":[-7.2,151.2],"nice":false},"axis":{"title":"r → a","values":[0,20,40,60,80,100,120,140]}},"color":{"field":"s","type":"nominal","legend":{"title":null,"orient":"none","legendX":186,"legendY":63}}}}
]},
{"width":328,"height":178,"data":{"name":"rc"},
"encoding":{"y":{"field":"m","type":"quantitative","scale":{"domain":[0.4697,0.6136],"nice":false,"zero":false},"axis":{"title":"Training Accuracy","values":[0.48,0.5,0.52,0.54,0.56,0.58,0.6],"format":".2f"}}},
"layer":[
{"data":{"name":"boxes"},"transform":[{"filter":"datum.t == 'rc'"}],"mark":{"type":"rect","fillOpacity":0.3,"strokeOpacity":0.35,"strokeWidth":1},"encoding":{"x":{"datum":0,"type":"quantitative"},"x2":{"datum":144},"y":{"field":"y1","type":"quantitative"},"y2":{"field":"y2"},"fill":{"field":"s","type":"nominal","legend":null},"stroke":{"field":"s","type":"nominal","legend":null}}},
{"mark":"errorband","encoding":{"x":{"field":"e","type":"quantitative"},"yError":{"field":"w"},"fill":{"field":"s","type":"nominal","legend":null}}},
{"mark":{"type":"line","strokeWidth":2,"opacity":0.6},"encoding":{"x":{"field":"e","type":"quantitative","scale":{"domain":[-7.2,151.2],"nice":false},"axis":{"title":"r → c","values":[0,20,40,60,80,100,120,140]}},"color":{"field":"s","type":"nominal","legend":{"title":null}}}}
]},
{"width":328,"height":178,"data":{"name":"rp"},
"encoding":{"y":{"field":"m","type":"quantitative","scale":{"domain":[0.7679,0.8555],"nice":false,"zero":false},"axis":{"title":"Training Accuracy","values":[0.78,0.8,0.82,0.84],"format":".2f"}}},
"layer":[
{"data":{"name":"boxes"},"transform":[{"filter":"datum.t == 'rp'"}],"mark":{"type":"rect","fillOpacity":0.3,"strokeOpacity":0.35,"strokeWidth":1},"encoding":{"x":{"datum":0,"type":"quantitative"},"x2":{"datum":144},"y":{"field":"y1","type":"quantitative"},"y2":{"field":"y2"},"fill":{"field":"s","type":"nominal","legend":null},"stroke":{"field":"s","type":"nominal","legend":null}}},
{"mark":"errorband","encoding":{"x":{"field":"e","type":"quantitative"},"yError":{"field":"w"},"fill":{"field":"s","type":"nominal","legend":null}}},
{"mark":{"type":"line","strokeWidth":2,"opacity":0.6},"encoding":{"x":{"field":"e","type":"quantitative","scale":{"domain":[-7.2,151.2],"nice":false},"axis":{"title":"r → p","values":[0,20,40,60,80,100,120,140]}},"color":{"field":"s","type":"nominal","legend":{"title":null}}}}
]}
],
"config": {
"font": "DejaVu Sans",
"background": "#ffffff",
"view": {"stroke": "#000000", "strokeWidth": 1},
"range": {"category": ["#008000", "#0000ff"]},
"axis": {"grid": false, "domain": false, "tickColor": "#000000", "tickSize": 3.5, "tickWidth": 1, "labelFont": "DejaVu Sans", "labelFontSize": 10, "labelColor": "#000000", "labelPadding": 3, "labelFlush": false, "labelOverlap": false, "titleFont": "DejaVu Sans", "titleFontSize": 12, "titleFontWeight": "normal", "titleColor": "#000000", "titlePadding": 4},
"legend": {"orient": "bottom-right", "offset": 8, "fillColor": "rgba(255,255,255,0.8)", "strokeColor": "#cccccc", "cornerRadius": 4, "padding": 5, "labelFont": "DejaVu Sans", "labelFontSize": 16, "labelColor": "#000000", "labelOffset": 35, "labelLimit": 0, "symbolType": "M-1,0H6", "symbolSize": 100, "symbolStrokeWidth": 2, "symbolOpacity": 0.6, "rowPadding": 9}
}
}
